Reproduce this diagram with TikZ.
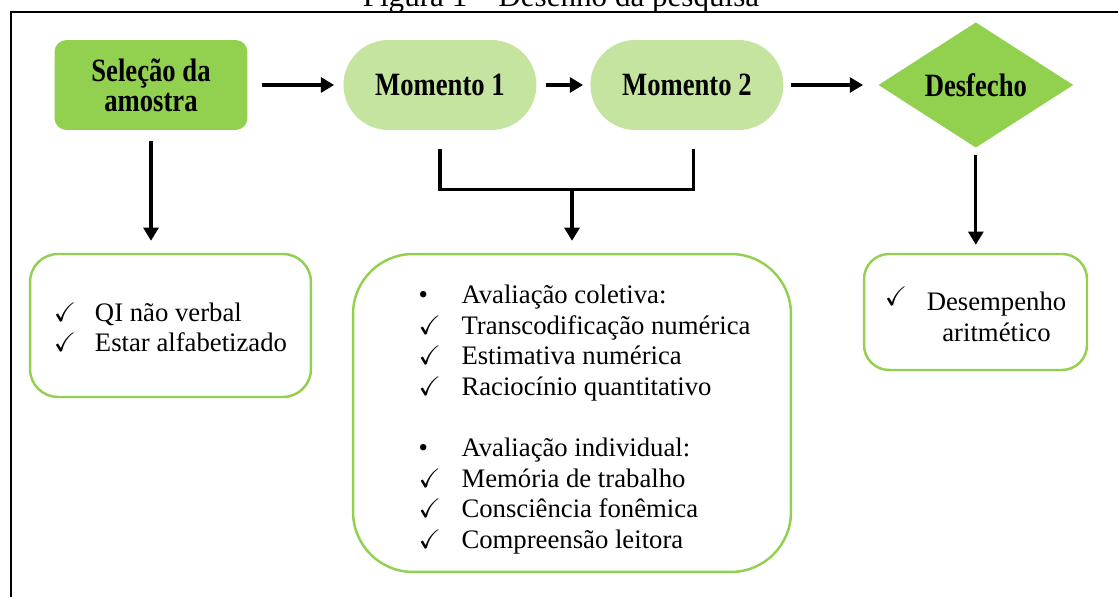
\documentclass[tikz,border=0pt]{standalone}
\usepackage{fontspec}
\usepackage{amssymb}
\usepackage{array}
\setmainfont{Liberation Serif}
\newfontfamily\headfont[FakeStretch=0.82]{Liberation Serif}
\usepackage{tikz}
\usetikzlibrary{shapes.geometric}
\usetikzlibrary{arrows.meta}
\definecolor{stepgreen}{RGB}{146,208,80}
\definecolor{momentgreen}{RGB}{197,228,159}

\begin{document}
\begin{tikzpicture}[x=0.02cm, y=0.02cm, node distance=5.78cm,
	arrow/.style={-{Triangle[length=7.5pt,width=8.5pt]}, line width=1.8pt},
	sample node/.style={rectangle, rounded corners=0.24cm, fill=stepgreen, minimum width=3.86cm, minimum height=1.8cm, align=center, font=\headfont\bfseries\fontsize{18.5pt}{17pt}\selectfont},
	moment node/.style={sample node, rounded corners=0.9cm, fill=momentgreen},
	end node/.style={diamond, fill=stepgreen, inner sep=0pt, minimum width=3.9cm, minimum height=2.3cm, font=\headfont\bfseries\fontsize{18.5pt}{17pt}\selectfont},
	list node/.style={rectangle, draw=stepgreen, line width=1.4pt, inner sep=0pt, font=\fontsize{15.2pt}{17.4pt}\selectfont}]
	
	\useasboundingbox (0,0) rectangle (1118,-597);
	\draw[line width=1.1pt] (11,-12) rectangle (1140,-620);
	\node[anchor=base, inner sep=0pt, font=\fontsize{17.7pt}{20pt}\selectfont] (title) at (561,-7) {Figura 1 – Desenho da pesquisa};
	
	\node[sample node] (1) at (151,-85) {Seleção da\\amostra};
	\node[moment node] (2) [right of=1] {Momento 1};
	\node[moment node] (3) [right of=2, xshift=-0.84cm] {Momento 2};
	\node[end node] (4) [right of=3] {Desfecho};
	
	\node[list node, minimum width=5.62cm, minimum height=2.86cm, rounded corners=0.56cm] (5) at (170.5,-325.5) {%
		\raisebox{-0.1cm}[\height][\depth]{\begin{tabular}{@{}p{0.82cm}@{}l@{}}
			$\checkmark$ & QI não verbal\\
			$\checkmark$ & Estar alfabetizado
	\end{tabular}}};
	\node[list node, minimum width=8.76cm, minimum height=6.36cm, rounded corners=1.2cm] (6) at (572,-413) {%
		\hspace{0.5cm}\raisebox{-0.14cm}[\height][\depth]{\begin{tabular}{@{}p{0.86cm}@{}l@{}}
			\textbullet & Avaliação coletiva:\\
			$\checkmark$ & Transcodificação numérica\\
			$\checkmark$ & Estimativa numérica\\
			$\checkmark$ & Raciocínio quantitativo\\
			& \\
			\textbullet & Avaliação individual:\\
			$\checkmark$ & Memória de trabalho\\
			$\checkmark$ & Consciência fonêmica\\
			$\checkmark$ & Compreensão leitora
	\end{tabular}}};
	\node[list node, minimum width=4.46cm, minimum height=2.32cm, rounded corners=0.5cm] (7) at (975.5,-312) {%
		\raisebox{-0.14cm}[\height][\depth]{\begin{tabular}{@{}p{0.84cm}@{}c@{}}
			\raisebox{0.1cm}{$\checkmark$} & Desempenho\\
			& aritmético
	\end{tabular}}};
	
	\path[arrow]
	(1) edge[shorten <=0.28cm, shorten >=0.18cm] (2)
	(2) edge[shorten <=0.18cm, shorten >=0.14cm] (3)
	(3) edge[shorten <=0.14cm, shorten >=0.3cm] (4);
	
	\draw[arrow, shorten <=0.22cm, shorten >=0.24cm] (1.south) -- (1.south |- 5.north);
	\draw[arrow, shorten <=0.14cm, shorten >=0.16cm] (4.south) -- (4.south |- 7.north);
	
	\draw[line width=1.8pt] ([yshift=-0.38cm]2.south) |- ([xshift=0.14cm, yshift=-1.18cm]3.south) -- ([xshift=0.14cm, yshift=-0.38cm]3.south);
	\coordinate (j) at (6.north |- 2.south);
	\draw[arrow, shorten >=0.24cm] ([yshift=-1.18cm]j) -- (6.north);
	
\end{tikzpicture}
\end{document}
